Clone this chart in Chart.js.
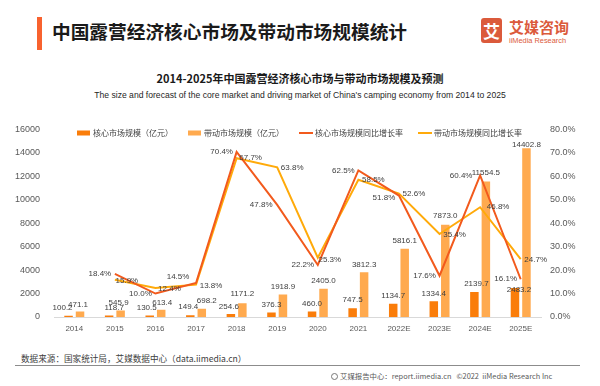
<!DOCTYPE html>
<html>
<head>
<meta charset="utf-8">
<script src="https://cdn.jsdelivr.net/npm/chart.js@4.4.0/dist/chart.umd.min.js"></script>
<style>
  html, body { margin: 0; padding: 0; background: #fff; }
  body { width: 600px; height: 386px; position: relative; overflow: hidden; font-family: "Noto Sans CJK SC", "Liberation Sans", sans-serif; }
  .abs { position: absolute; white-space: nowrap; }
  #bar { left: 37px; top: 17px; width: 5px; height: 33px; background: #F8622F; }
  #title { left: 52px; top: 21px; font-size: 18.7px; line-height: 20px; font-weight: bold; color: #1a1a1a; }
  #logoBox { left: 481px; top: 18px; width: 21px; height: 25px; background: #DB5A3B; border-radius: 3px; color: #fff; font-size: 17px; font-weight: bold; line-height: 25px; text-align: center; }
  #logoCn { left: 509px; top: 19px; font-size: 15px; line-height: 16px; font-weight: bold; color: #DB5A3B; }
  #logoEn { left: 509px; top: 37px; font-size: 7.4px; line-height: 8px; color: #DB5A3B; font-family: "Liberation Sans", sans-serif; }
  #sub { left: 0; width: 600px; text-align: center; top: 72px; font-size: 11px; line-height: 12px; font-weight: bold; color: #1a1a1a; }
  #subEn { left: 0; width: 600px; text-align: center; top: 90px; font-size: 8.6px; line-height: 10px; color: #262626; font-family: "Liberation Sans", sans-serif; }
  #chartWrap { position: absolute; left: 0; top: 110px; width: 600px; height: 230px; }
  #source { left: 21px; top: 353px; font-size: 8.6px; line-height: 10px; color: #404040; }
  #rule { left: 15px; top: 365px; width: 565px; height: 1px; background: #8c8c8c; }
  #foot { left: 331px; top: 371px; font-size: 7.4px; line-height: 9px; color: #595959; }
  #footIcon { display: inline-block; width: 7px; height: 7px; border: 1px solid #777; border-radius: 50%; vertical-align: -1px; margin-right: 2px; box-sizing: border-box; }
</style>
</head>
<body>
<div id="bar" class="abs"></div>
<div id="title" class="abs">中国露营经济核心市场及带动市场规模统计</div>
<div id="logoBox" class="abs">艾</div>
<div id="logoCn" class="abs">艾媒咨询</div>
<div id="logoEn" class="abs">iiMedia Research</div>
<div id="sub" class="abs">2014-2025年中国露营经济核心市场与带动市场规模及预测</div>
<div id="subEn" class="abs">The size and forecast of the core market and driving market of China's camping economy from 2014 to 2025</div>
<div id="chartWrap"><canvas id="c" width="600" height="230"></canvas></div>
<div id="source" class="abs">数据来源：国家统计局，艾媒数据中心（data.iimedia.cn）</div>
<div id="rule" class="abs"></div>
<div id="foot" class="abs"><span id="footIcon"></span>艾媒报告中心：report.iimedia.cn &nbsp;&nbsp;©2022 &nbsp;iiMedia Research Inc</div>
<script>
// ---- data ----
const years = ['2014','2015','2016','2017','2018','2019','2020','2021','2022E','2023E','2024E','2025E'];
const coreMarket = [100.2, 118.7, 130.5, 149.4, 254.6, 376.3, 460.0, 747.5, 1134.7, 1334.4, 2139.7, 2483.2];
const drivingMarket = [471.1, 545.9, 613.4, 698.2, 1171.2, 1918.9, 2405.0, 3812.3, 5816.1, 7873.0, 11554.5, 14402.8];
const coreGrowth = [null, 18.4, 10.0, 14.5, 70.4, 47.8, 22.2, 62.5, 51.8, 17.6, 60.4, 16.1];
const drivingGrowth = [null, 15.9, 12.4, 13.8, 67.7, 63.8, 25.3, 58.5, 52.6, 35.4, 46.8, 24.7];
const seriesNames = ['核心市场规模（亿元）', '带动市场规模（亿元）', '核心市场规模同比增长率', '带动市场规模同比增长率'];
const leftAxis = { min: 0, max: 16000, step: 2000 };
const rightAxis = { min: 0, max: 80, step: 10 };

// ---- label placement tweaks (pixels, style only) ----
const coreLabelShift = [[-6,0],[5,0],[-3,0],[-2,0],[-2,1],[0,0],[0,0],[0,0],[0,0],[0,0],[2,0],[4,10]];
const drivingLabelShift = [[-2,1],[-2,0],[1,1],[5,0],[0,-1],[0,0],[0,0],[0,0],[0,0],[0,-1],[0,-1],[0,5]];
const coreGrowthShift = [null,[-15,0],[-15,0],[-18,-6],[-15,0],[-16,0],[-15,0],[-15,0],[-15,2],[-15,0],[-19,0],[-15,0]];
const drivingGrowthShift = [null,[12,1],[14,1],[15,1],[14,0],[15,0],[12,2],[15,0],[15,0],[15,1],[18,0],[15,1]];
const legendX = [77, 188, 299, 418];

const colors = { core: '#FA7D0A', driving: '#FFAA4F', coreLine: '#F25A1D', drivingLine: '#FFAA0A' };
const txt = '#404040';
const numFont = '8px "Liberation Sans", Arial, sans-serif';

const labelPlugin = {
  id: 'labels',
  afterDatasetsDraw(chart) {
    const ctx = chart.ctx;
    ctx.save();
    ctx.font = numFont;
    ctx.fillStyle = txt;
    ctx.textAlign = 'center';
    ctx.textBaseline = 'middle';
    const specs = [
      { idx: 0, shift: coreLabelShift, fmt: v => v.toFixed(1), bar: true },
      { idx: 1, shift: drivingLabelShift, fmt: v => v.toFixed(1), bar: true },
      { idx: 2, shift: coreGrowthShift, fmt: v => v.toFixed(1) + '%', bar: false },
      { idx: 3, shift: drivingGrowthShift, fmt: v => v.toFixed(1) + '%', bar: false }
    ];
    specs.forEach(s => {
      const meta = chart.getDatasetMeta(s.idx);
      const data = chart.data.datasets[s.idx].data;
      meta.data.forEach((el, i) => {
        const v = data[i];
        if (v === null || v === undefined) return;
        const sh = s.shift[i] || [0,0];
        const y = s.bar ? el.y - 8 : el.y;
        ctx.fillText(s.fmt(v), el.x + sh[0], y + sh[1]);
      });
    });
    ctx.restore();
  },
  afterDraw(chart) {
    const ctx = chart.ctx;
    ctx.save();
    const ly = 23;
    ctx.font = '8px "Noto Sans CJK SC", sans-serif';
    ctx.textBaseline = 'middle';
    ctx.textAlign = 'left';
    chart.data.datasets.forEach((ds, i) => {
      const x = legendX[i];
      if (ds.type === 'line') {
        ctx.strokeStyle = ds.borderColor;
        ctx.lineWidth = 2;
        ctx.beginPath();
        ctx.moveTo(x, ly);
        ctx.lineTo(x + 14, ly);
        ctx.stroke();
      } else {
        ctx.fillStyle = ds.backgroundColor;
        ctx.fillRect(x, ly - 2.5, 13, 5);
      }
      ctx.fillStyle = txt;
      ctx.fillText(ds.label, x + 16, ly);
    });
    ctx.restore();
  }
};

new Chart(document.getElementById('c'), {
  data: {
    labels: years,
    datasets: [
      { type: 'bar', label: seriesNames[0], data: coreMarket, backgroundColor: colors.core, yAxisID: 'y', order: 2, categoryPercentage: 0.566, barPercentage: 0.74 },
      { type: 'bar', label: seriesNames[1], data: drivingMarket, backgroundColor: colors.driving, yAxisID: 'y', order: 2, categoryPercentage: 0.566, barPercentage: 0.74 },
      { type: 'line', label: seriesNames[2], data: coreGrowth, borderColor: colors.coreLine, backgroundColor: colors.coreLine, borderWidth: 2, pointRadius: 0, tension: 0, yAxisID: 'y1', order: 1 },
      { type: 'line', label: seriesNames[3], data: drivingGrowth, borderColor: colors.drivingLine, backgroundColor: colors.drivingLine, borderWidth: 2, pointRadius: 0, tension: 0, yAxisID: 'y1', order: 1 }
    ]
  },
  options: {
    responsive: false,
    animation: false,
    events: [],
    layout: { padding: { top: 19, left: 0, right: 0, bottom: 0 } },
    plugins: { legend: { display: false }, tooltip: { enabled: false } },
    scales: {
      x: {
        offset: true,
        grid: { display: false, drawTicks: false },
        border: { display: true, color: '#D9D9D9', width: 1 },
        ticks: { color: '#595959', font: { size: 8, family: '"Liberation Sans", Arial, sans-serif' }, padding: 7, maxRotation: 0, autoSkip: false },
        afterFit(s) { s.height = 23; }
      },
      y: {
        position: 'left',
        min: leftAxis.min, max: leftAxis.max,
        grid: { display: false, drawTicks: false },
        border: { display: false },
        ticks: { stepSize: leftAxis.step, color: '#595959', font: { size: 9, family: '"Liberation Sans", Arial, sans-serif' }, padding: 14, callback: v => String(v) },
        afterFit(s) { s.width = 54; }
      },
      y1: {
        position: 'right',
        min: rightAxis.min, max: rightAxis.max,
        grid: { display: false, drawTicks: false },
        border: { display: false },
        ticks: { stepSize: rightAxis.step, color: '#595959', font: { size: 9, family: '"Liberation Sans", Arial, sans-serif' }, padding: 9, callback: v => v.toFixed(1) + '%' },
        afterFit(s) { s.width = 59; }
      }
    }
  },
  plugins: [labelPlugin]
});
</script>
</body>
</html>
